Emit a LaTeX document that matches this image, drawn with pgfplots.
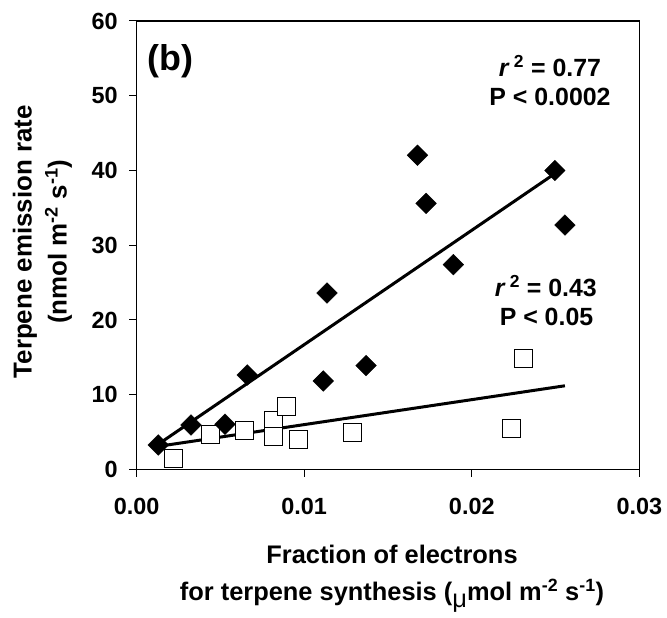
\documentclass[border=0pt]{standalone}
\usepackage{pgfplots}
\pgfplotsset{compat=1.18}
\usepackage{fontspec}
\setmainfont{Liberation Sans}
\begin{document}
\begin{tikzpicture}
\begin{axis}[
  name=ax,
  scale only axis,
  width=502.6bp, height=448.5bp,
  xmin=0, xmax=0.03, ymin=0, ymax=60,
  xtick={0,0.01,0.02,0.03},
  xticklabels={0.00,0.01,0.02,0.03},
  ytick={0,10,20,30,40,50,60},
  yticklabels={0,10,20,30,40,50,60},
  scaled x ticks=false,
  tick align=outside,
  tick pos=left,
  major tick length=7.5bp,
  tick style={black, line width=1bp},
  axis line style={line width=1.3bp},
  ticklabel style={font=\fontsize{23.5}{28}\bfseries\selectfont},
  xticklabel style={yshift=-18bp},
  yticklabel style={xshift=-8bp},
  xlabel={Fraction of electrons\\for terpene synthesis ({\mdseries\raisebox{-0.3em}{μ}}mol m\textsuperscript{-2} s\textsuperscript{-1})},
  xlabel style={font=\fontsize{25.5}{36.7}\bfseries\selectfont, align=center, inner sep=0pt,
    at={(axis description cs:0.508,-0.1683)}, anchor=north},
  ylabel={Terpene emission rate\\(nmol m\textsuperscript{-2} s\textsuperscript{-1})},
  ylabel style={font=\fontsize{26}{35}\bfseries\selectfont, align=center, inner sep=0pt,
    at={(axis description cs:-0.2467,0.5078)}, anchor=north},
  clip=false,
]
% open squares
\addplot[only marks, mark=square*, mark size=9bp, mark options={fill=white, draw=black, line width=1bp}]
coordinates {
(0.00219,1.45) (0.00438,4.62) (0.00646,5.28) (0.00816,6.62) (0.00816,4.48)
(0.00895,8.49) (0.00965,3.95) (0.01289,4.97) (0.02237,5.5) (0.02308,14.9)
};
% filled diamonds
\addplot[only marks, mark=square*, mark size=7.3bp, mark options={fill=black, draw=black, rotate=45}]
coordinates {
(0.00129,3.28) (0.00324,5.95) (0.00527,6.05) (0.0066,12.64) (0.01114,11.84)
(0.01136,23.6) (0.01369,13.9) (0.01676,42.05) (0.01727,35.6) (0.0189,27.4)
(0.02496,40.0) (0.02556,32.7)
};
% regression lines
\addplot[black, line width=3bp, no marks] coordinates {(0.0013,3.4) (0.0251,39.8)};
\addplot[black, line width=3bp, no marks] coordinates {(0.0013,3.1) (0.02556,11.2)};
% annotations
\node[anchor=base, inner sep=0pt, font=\fontsize{25}{30}\bfseries\selectfont] at (axis cs:0.02467,52.55) {\textit{r}\,\textsuperscript{2} = 0.77};
\node[anchor=base, inner sep=0pt, font=\fontsize{25}{30}\bfseries\selectfont] at (axis cs:0.02467,48.75) {P < 0.0002};
\node[anchor=base, inner sep=0pt, font=\fontsize{25}{30}\bfseries\selectfont] at (axis cs:0.02442,23.08) {\textit{r}\,\textsuperscript{2} = 0.43};
\node[anchor=base, inner sep=0pt, font=\fontsize{25}{30}\bfseries\selectfont] at (axis cs:0.02446,19.33) {P < 0.05};
\node[anchor=base, inner sep=0pt, font=\fontsize{36}{40}\bfseries\selectfont] at (axis cs:0.002035,53.44) {(b)};
\end{axis}
\pgfresetboundingbox
\path ([shift={(-136.7bp,-148.5bp)}]ax.south west) rectangle ([shift={(27.7bp,21bp)}]ax.north east);
\end{tikzpicture}
\end{document}
